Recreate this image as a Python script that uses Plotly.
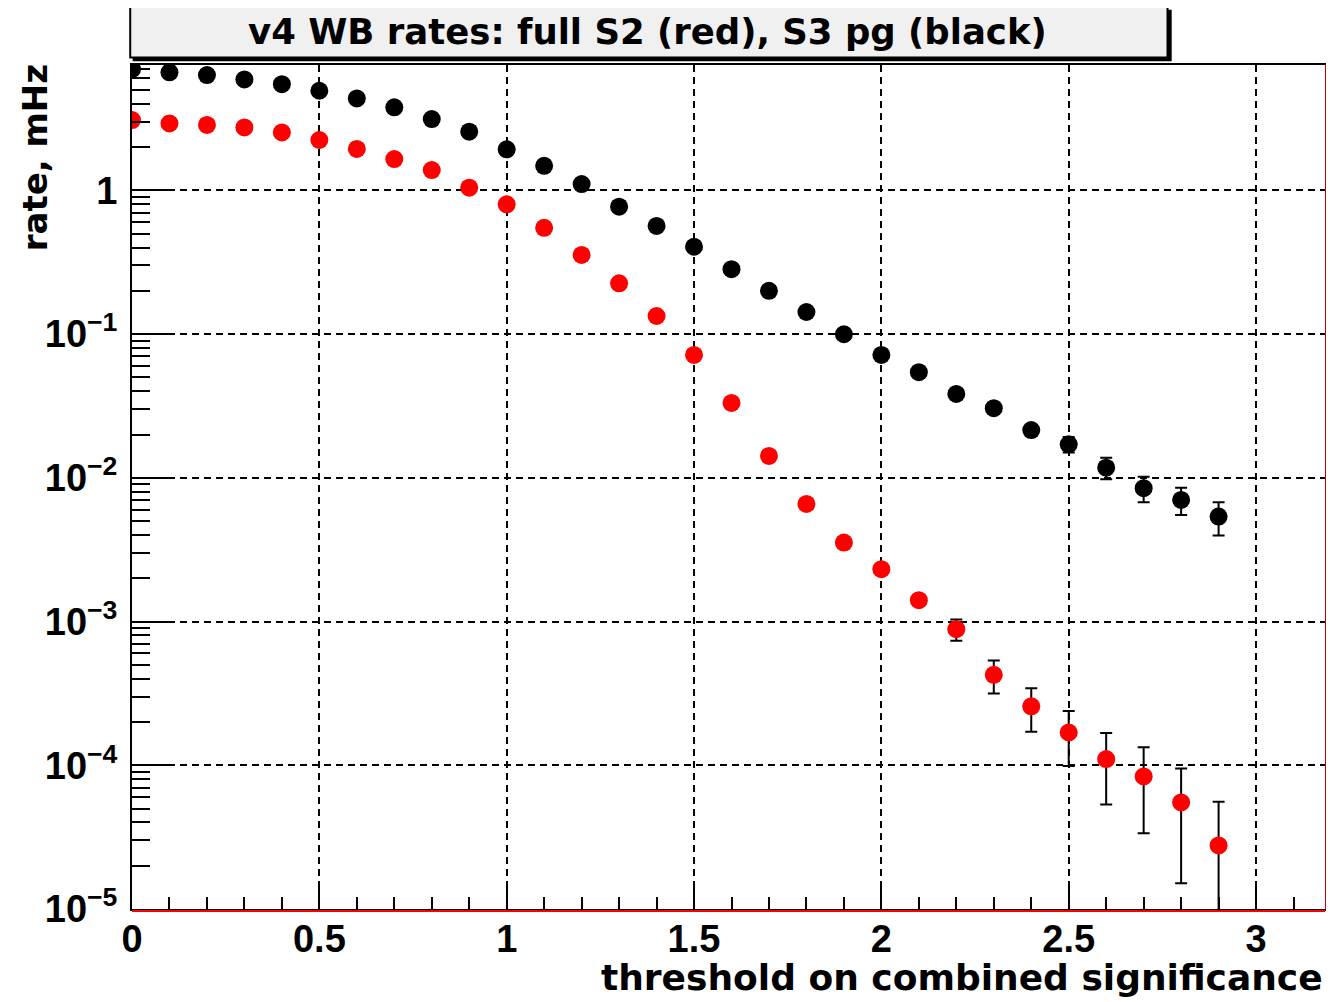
import plotly.graph_objects as go

# ---- data ----
thresholds = [0.0, 0.1, 0.2, 0.3, 0.4, 0.5, 0.6, 0.7, 0.8, 0.9,
              1.0, 1.1, 1.2, 1.3, 1.4, 1.5, 1.6, 1.7, 1.8, 1.9,
              2.0, 2.1, 2.2, 2.3, 2.4, 2.5, 2.6, 2.7, 2.8, 2.9]

s3_pg_rate = [6.97, 6.62, 6.34, 5.91, 5.48, 4.93, 4.36, 3.78, 3.13, 2.56,
              1.93, 1.48, 1.106, 0.769, 0.565, 0.405, 0.283, 0.200, 0.1424, 0.0997,
              0.0716, 0.0543, 0.0383, 0.0305, 0.0215, 0.0171, 0.01177, 0.00847, 0.00702, 0.00537]
s3_pg_err = [0.050, 0.049, 0.048, 0.046, 0.045, 0.042, 0.040, 0.037, 0.034, 0.030,
             0.026, 0.023, 0.020, 0.017, 0.014, 0.012, 0.010, 0.0085, 0.0072, 0.0060,
             0.0050, 0.0040, 0.0030, 0.0022, 0.0017, 0.0021, 0.0020, 0.0017, 0.0015, 0.0014]

s2_full_rate = [3.08, 2.92, 2.85, 2.74, 2.53, 2.24, 1.94, 1.65, 1.384, 1.043,
                0.799, 0.549, 0.355, 0.2256, 0.1336, 0.0716, 0.0332, 0.0142, 0.00658, 0.00354,
                0.002314, 0.001408, 0.000885, 0.000426, 0.000257, 0.000169, 0.0001104, 0.0000836, 0.0000551, 0.0000277]
s2_full_err = [0.009, 0.0086, 0.0085, 0.0083, 0.008, 0.0075, 0.007, 0.0064, 0.0059, 0.0051,
               0.0045, 0.0037, 0.0030, 0.0024, 0.0018, 0.0013, 0.0009, 0.0006, 0.0004, 0.0003,
               0.00012, 0.00010, 0.00015, 0.00011, 0.000086, 0.00007, 0.000057, 0.00005, 0.00004, 0.000028]

y_tick_vals = [1e-5, 1e-4, 1e-3, 1e-2, 1e-1, 1]
y_tick_text = ["10<sup>\u22125</sup>", "10<sup>\u22124</sup>", "10<sup>\u22123</sup>",
               "10<sup>\u22122</sup>", "10<sup>\u22121</sup>", "1"]

title_text = "v4 WB rates: full S2 (red), S3 pg (black)"
x_title = "threshold on combined significance"
y_title = "rate, mHz"

TICKFONT = "Liberation Sans, Arial, sans-serif"
TITLEFONT = "DejaVu Sans, sans-serif"

fig = go.Figure()

fig.add_trace(go.Scatter(
    x=thresholds, y=s3_pg_rate, mode="markers",
    marker=dict(color="black", size=18),
    error_y=dict(type="data", array=s3_pg_err, color="black", thickness=2, width=6),
    showlegend=False,
))
fig.add_trace(go.Scatter(
    x=thresholds, y=s2_full_rate, mode="markers",
    marker=dict(color="#ff0000", size=18),
    error_y=dict(type="data", array=s2_full_err, color="black", thickness=2, width=6),
    showlegend=False,
))

# the page adds an 8px body margin, so the figure is a bit smaller than the window
fig.update_layout(
    width=1326, height=994,
    margin=dict(l=124, r=9, t=57, b=93, autoexpand=False),
    paper_bgcolor="white", plot_bgcolor="white",
    font=dict(family=TICKFONT, color="black", size=38, weight="bold"),
    showlegend=False,
)

fig.update_xaxes(
    range=[0, 3.184],
    tick0=0, dtick=0.5,
    ticks="inside", ticklen=22, tickwidth=2, tickcolor="black",
    minor=dict(dtick=0.1, ticks="inside", ticklen=12, tickwidth=2, tickcolor="black", showgrid=False),
    showgrid=True, gridcolor="black", gridwidth=2, griddash="7px,5px",
    showline=True, linecolor="black", linewidth=2, mirror=True,
    zeroline=False, automargin=False,
    ticklabelstandoff=-5,
    tickfont=dict(family=TICKFONT, size=38, color="black", weight="bold"),
)

fig.update_yaxes(
    type="log",
    range=[-5, 0.872],
    tickvals=y_tick_vals, ticktext=y_tick_text,
    ticks="inside", ticklen=42, tickwidth=2, tickcolor="black",
    minor=dict(dtick="D1", ticks="inside", ticklen=18, tickwidth=2, tickcolor="black", showgrid=False),
    showgrid=True, gridcolor="black", gridwidth=2, griddash="7px,5px",
    showline=True, linecolor="black", linewidth=2, mirror=True,
    zeroline=False, automargin=False,
    ticklabelstandoff=5,
    tickfont=dict(family=TICKFONT, size=38, color="black", weight="bold"),
)

# red frame lines at bottom and right (ROOT frame)
fig.add_shape(type="line", xref="paper", yref="paper", x0=0, x1=1,
              ysizemode="pixel", yanchor=0, y0=-2, y1=-2,
              line=dict(color="#ff0000", width=2), layer="above")
fig.add_shape(type="line", xref="paper", yref="paper", y0=0, y1=1,
              xsizemode="pixel", xanchor=1, x0=1.5, x1=1.5,
              line=dict(color="#ff0000", width=2.5), layer="above")

# title box (shadow + box)
fig.add_shape(type="rect", xref="paper", yref="paper",
              x0=0.0005, x1=0.8715, y0=1.0045, y1=1.0655,
              fillcolor="black", line=dict(width=0), layer="above")
fig.add_shape(type="rect", xref="paper", yref="paper",
              x0=-0.0015, x1=0.868, y0=1.009, y1=1.0695,
              fillcolor="#f0f0f0", line=dict(color="black", width=2), layer="above")
fig.add_annotation(text=title_text, xref="paper", yref="paper",
                   x=0.4325, y=1.0395, xanchor="center", yanchor="middle",
                   showarrow=False,
                   font=dict(family=TITLEFONT, size=35.5, color="black", weight="bold"))

# axis titles
fig.add_annotation(text=x_title, xref="paper", yref="paper",
                   x=1.0, y=-0.081, xanchor="right", yanchor="middle",
                   showarrow=False,
                   font=dict(family=TITLEFONT, size=36, color="black", weight="bold"))
fig.add_annotation(text=y_title, xref="paper", yref="paper",
                   x=-0.081, y=1.003, xanchor="center", yanchor="top",
                   textangle=-90, showarrow=False,
                   font=dict(family=TITLEFONT, size=34, color="black", weight="bold"))

fig.write_html("out.html")
